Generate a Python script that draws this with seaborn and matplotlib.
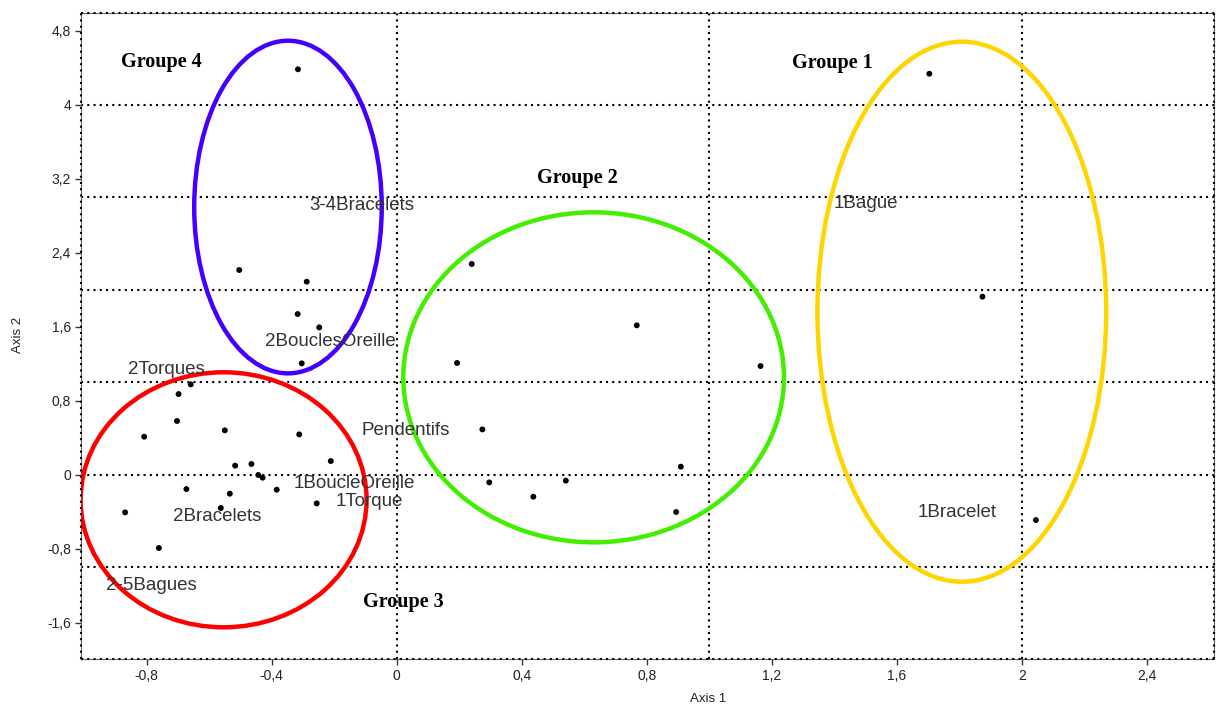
import matplotlib
matplotlib.use("Agg")

import numpy as np
import pandas as pd
import matplotlib.pyplot as plt
import seaborn as sns
from matplotlib.patches import Ellipse
from matplotlib.ticker import FuncFormatter

sns.set_theme(style="white")
plt.rcParams["font.family"] = ["Liberation Sans", "DejaVu Sans"]

# ---------------------------------------------------------------------------
# Données (coordonnées)
# ---------------------------------------------------------------------------

axis1 = [-0.316, -0.504, -0.288, -0.317, -0.248, -0.304,
         -0.659, -0.698, -0.703, -0.808, -0.550, -0.312, -0.211, -0.517,
         -0.465, -0.443, -0.429, -0.673, -0.534, -0.384, -0.256, -0.563,
         -0.869, -0.761,
         0.240, 0.768, 0.193, 1.164, 0.274, 0.909, 0.296, 0.541, 0.437, 0.894,
         1.704, 1.874, 2.045]
axis2 = [4.383, 2.213, 2.087, 1.737, 1.593, 1.204,
         0.977, 0.872, 0.581, 0.411, 0.480, 0.436, 0.148, 0.098,
         0.116, -0.003, -0.032, -0.155, -0.205, -0.162, -0.310, -0.360,
         -0.407, -0.792,
         2.278, 1.615, 1.208, 1.175, 0.490, 0.087, -0.083, -0.064, -0.238, -0.403,
         4.335, 1.925, -0.490]

modalites = ["3-4Bracelets", "2BouclesOreille", "2Torques", "Pendentifs",
             "1BoucleOreille", "1Torque", "2Bracelets", "2-5Bagues",
             "1Bague", "1Bracelet"]
mod_x = [-0.280, -0.421, -0.859, -0.112, -0.331, -0.197, -0.715, -0.930, 1.397, 1.667]
mod_y = [2.91, 1.438, 1.139, 0.476, -0.10, -0.288, -0.454, -1.20, 2.934, -0.407]

groupes = ["Groupe 1", "Groupe 2", "Groupe 3", "Groupe 4"]
groupe_x = [1.265, 0.448, -0.109, -0.883]
groupe_y = [4.447, 3.204, -1.380, 4.465]

# ellipses : centre, largeur, hauteur
ell_cx = [1.808, 0.630, -0.554, -0.348]
ell_cy = [1.762, 1.053, -0.271, 2.894]
ell_w = [0.924, 1.218, 0.915, 0.600]
ell_h = [5.838, 3.568, 2.757, 3.596]
ell_colors = ["#ffd500", "#44ee00", "#ff0000", "#4400ff"]

x_ticks = [-0.8, -0.4, 0, 0.4, 0.8, 1.2, 1.6, 2, 2.4]
y_ticks = [-1.6, -0.8, 0, 0.8, 1.6, 2.4, 3.2, 4, 4.8]
grid_x = [0, 1, 2]
grid_y = [-1, 0, 1, 2, 3, 4]

XLIM = (-1.011, 2.615)
YLIM = (-1.992, 4.988)

df = pd.DataFrame({"Axis 1": axis1, "Axis 2": axis2})


def _virgule(v, pos=None):
    v = round(v, 6)
    if v == 0:
        return "0"
    return f"{v:g}".replace(".", ",")


# ---------------------------------------------------------------------------
# Figure
# ---------------------------------------------------------------------------

fig = plt.figure(figsize=(12.16, 7.06), dpi=100)
ax = fig.add_axes([0.0664, 0.0666, 0.9320, 0.9145])

dotted = (0, (1, 2))
for gx in grid_x:
    ax.axvline(gx, color="black", lw=1.5, ls=dotted, zorder=1)
for gy in grid_y:
    ax.axhline(gy, color="black", lw=1.5, ls=dotted, zorder=1)

sns.scatterplot(data=df, x="Axis 1", y="Axis 2", color="black", s=18,
                edgecolor="none", ax=ax, zorder=4)

for cx, cy, w, h, c in zip(ell_cx, ell_cy, ell_w, ell_h, ell_colors):
    ax.add_patch(Ellipse((cx, cy), w, h, fill=False, edgecolor=c, lw=3.2, zorder=3))

for t, x, y in zip(modalites, mod_x, mod_y):
    ax.text(x, y, t, ha="left", va="center", fontsize=13.5, color="#333333", zorder=5)

for t, x, y in zip(groupes, groupe_x, groupe_y):
    ax.text(x, y, t, ha="left", va="center", fontsize=14.5, fontweight="bold",
            family=["Liberation Serif", "DejaVu Serif"], color="black", zorder=5)

ax.set_xlim(*XLIM)
ax.set_ylim(*YLIM)
ax.set_xticks(x_ticks)
ax.set_yticks(y_ticks)
ax.xaxis.set_major_formatter(FuncFormatter(_virgule))
ax.yaxis.set_major_formatter(FuncFormatter(_virgule))
ax.tick_params(direction="out", length=4, width=1, color="#333333",
               labelsize=10, labelcolor="#222222", bottom=True, left=True, pad=3)

# cadre : trait fin gris + pointillés noirs
for side in ["left", "right", "top", "bottom"]:
    ax.spines[side].set_visible(True)
    ax.spines[side].set_color("#666666")
    ax.spines[side].set_linewidth(0.8)
for xs, ys in [([0, 1], [0, 0]), ([0, 1], [1, 1]), ([0, 0], [0, 1]), ([1, 1], [0, 1])]:
    ax.plot(xs, ys, transform=ax.transAxes, color="black", lw=1.5, ls=dotted,
            clip_on=False, zorder=6)

ax.set_xlabel("Axis 1", fontsize=9.5, color="#222222", va="center")
ax.set_ylabel("Axis 2", fontsize=9.5, color="#222222", va="center")
ax.xaxis.set_label_coords(0.5535, -0.0625)
ax.yaxis.set_label_coords(-0.0553, 0.502)

fig.savefig("out.png", dpi=100)
plt.close(fig)
